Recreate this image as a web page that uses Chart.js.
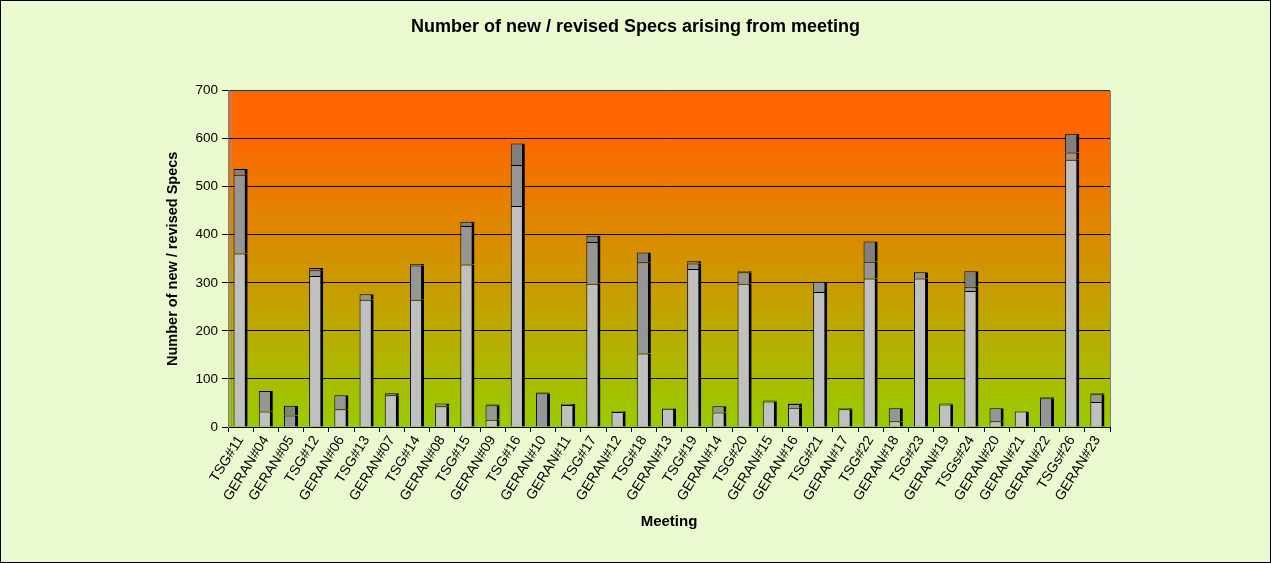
<!DOCTYPE html>
<html>
<head>
<meta charset="utf-8">
<script src="https://cdn.jsdelivr.net/npm/chart.js@4/dist/chart.umd.min.js"></script>
<style>
html,body{margin:0;padding:0;background:#EBF9D0;}
#wrap{width:1271px;height:563px;position:relative;}
</style>
</head>
<body>
<div id="wrap"><canvas id="c" width="1271" height="563"></canvas></div>
<script>
const categories = ["TSG#11","GERAN#04","GERAN#05","TSG#12","GERAN#06","TSG#13","GERAN#07","TSG#14","GERAN#08","TSG#15","GERAN#09","TSG#16","GERAN#10","GERAN#11","TSG#17","GERAN#12","TSG#18","GERAN#13","TSG#19","GERAN#14","TSG#20","GERAN#15","GERAN#16","TSG#21","GERAN#17","TSG#22","GERAN#18","TSG#23","GERAN#19","TSGs#24","GERAN#20","GERAN#21","GERAN#22","TSGs#26","GERAN#23"];
const lightValues = [361,32,0,314,37,265,66,265,43,338,15,460,0,46,298,31,153,38,329,30,298,53,40,281,37,309,12,309,47,283,12,32,0,556,52];
const midValues   = [164,43,24,12,29,11,0,71,6,80,30,85,70,0,87,0,190,0,11,13,24,0,8,21,0,35,27,13,0,9,27,0,60,15,16];
const darkValues  = [12,0,20,5,0,0,4,3,0,9,2,45,2,2,13,2,20,1,5,0,2,2,1,0,2,42,0,0,2,32,0,0,2,39,2];
const yTicks = [0,100,200,300,400,500,600,700];

const FONT = "'Liberation Sans', Arial, sans-serif";

const bgPlugin = {
  id: 'bg',
  beforeDraw(chart) {
    const ctx = chart.ctx, a = chart.chartArea;
    ctx.save();
    ctx.fillStyle = '#EBF9D0';
    ctx.fillRect(0, 0, chart.width, chart.height);
    const g = ctx.createLinearGradient(0, a.top, 0, a.bottom);
    g.addColorStop(0, '#FF6600');
    g.addColorStop(0.12, '#FF6600');
    g.addColorStop(1, '#99CC00');
    ctx.fillStyle = g;
    ctx.fillRect(a.left, a.top, a.right - a.left, a.bottom - a.top);
    ctx.strokeStyle = '#909090';
    ctx.beginPath();
    ctx.moveTo(a.left + 3.5, a.top);
    ctx.lineTo(a.left + 3.5, a.bottom);
    ctx.stroke();
    ctx.restore();
  },
  afterDraw(chart) {
    const ctx = chart.ctx, a = chart.chartArea;
    ctx.save();
    ctx.strokeStyle = '#808080';
    ctx.lineWidth = 1;
    ctx.beginPath();
    ctx.moveTo(a.left + 0.5, a.top + 0.5);
    ctx.lineTo(a.right + 0.5, a.top + 0.5);
    ctx.lineTo(a.right + 0.5, a.bottom);
    ctx.stroke();
    ctx.strokeStyle = '#000';
    ctx.strokeRect(0.5, 0.5, chart.width - 1, chart.height - 1);
    ctx.restore();
  }
};

const barStyle = {
  borderColor: '#000000',
  borderWidth: {left: 1, right: 3, top: 1, bottom: 0},
  borderSkipped: false,
  barPercentage: 0.56,
  categoryPercentage: 1.0
};

new Chart(document.getElementById('c'), {
  type: 'bar',
  data: {
    labels: categories,
    datasets: [
      Object.assign({label: 'A', data: lightValues, backgroundColor: '#C0C0C0'}, barStyle),
      Object.assign({label: 'B', data: midValues, backgroundColor: '#969696'}, barStyle),
      Object.assign({label: 'C', data: darkValues, backgroundColor: '#808080'}, barStyle)
    ]
  },
  plugins: [bgPlugin],
  options: {
    responsive: false,
    animation: false,
    layout: {padding: {left: 0, right: 0, top: 0, bottom: 28}},
    plugins: {
      legend: {display: false},
      tooltip: {enabled: false},
      title: {
        display: true,
        text: 'Number of new / revised Specs arising from meeting',
        color: '#000',
        font: {family: FONT, size: 18, weight: 'bold'},
        padding: {top: 16, bottom: 53}
      }
    },
    scales: {
      x: {
        stacked: true,
        afterFit(s) { s.height = 108; },
        grid: {display: true, drawOnChartArea: false, drawTicks: true, tickLength: 5, color: '#000', offset: true},
        border: {display: true, color: '#000'},
        ticks: {
          color: '#000',
          font: {family: FONT, size: 14},
          minRotation: 58, maxRotation: 58,
          autoSkip: false,
          padding: 1
        },
        title: {
          display: true,
          text: 'Meeting',
          color: '#000',
          font: {family: FONT, size: 15, weight: 'bold'},
          padding: {top: 0, bottom: 4}
        }
      },
      y: {
        stacked: true,
        min: 0, max: 700,
        afterFit(s) { s.width = 228; },
        afterBuildTicks(s) { s.ticks = yTicks.map(v => ({value: v})); },
        grid: {color: '#000', tickLength: 6, drawTicks: true},
        border: {display: true, color: '#808080'},
        ticks: {
          color: '#000',
          font: {family: FONT, size: 13.5},
          padding: 4
        },
        title: {
          display: true,
          text: 'Number of new / revised Specs',
          color: '#000',
          font: {family: FONT, size: 14.5, weight: 'bold'},
          padding: {top: 164, bottom: 4}
        }
      },
      yRight: {
        position: 'right',
        display: true,
        afterFit(s) { s.width = 161; },
        grid: {display: false},
        border: {display: false},
        ticks: {display: false}
      }
    }
  }
});
</script>
</body>
</html>
